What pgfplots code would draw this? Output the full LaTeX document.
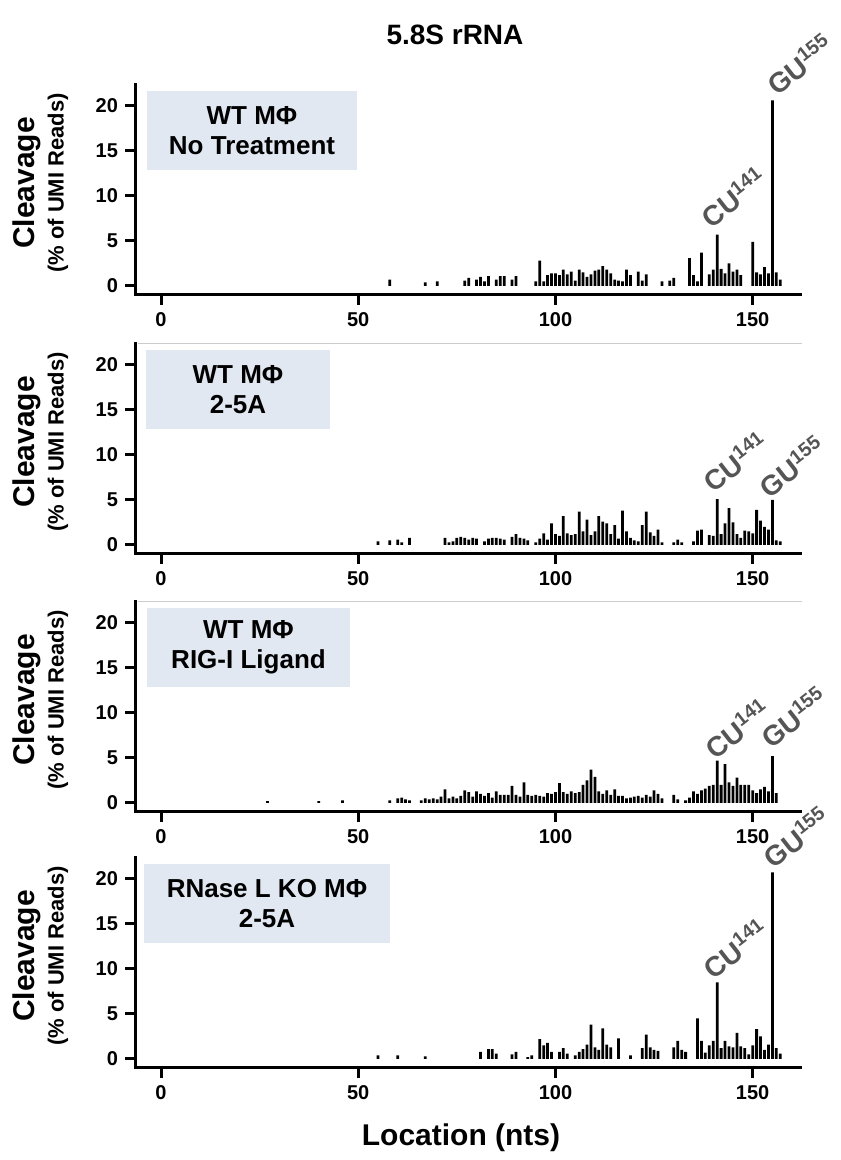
\documentclass[border=0pt]{standalone}
\usepackage{pgfplots}
\pgfplotsset{compat=1.18}
\usepackage{pgfplotstable}
\usepackage{fontspec}
\setmainfont{Liberation Sans}

\definecolor{boxfill}{RGB}{225,232,242}
\definecolor{annogray}{RGB}{85,85,85}
\definecolor{sepgray}{RGB}{204,204,204}

% cleavage (% of UMI reads) per nucleotide position
\pgfplotstableread{
x y
58 0.7
67 0.4
70 0.5
77 0.6
78 0.9
80 0.7
81 1.0
82 0.5
83 1.1
85 0.7
86 1.1
87 1.1
89 0.7
90 1.1
95 0.5
96 2.8
97 0.5
98 1.2
99 1.4
100 1.4
101 1.2
102 1.8
103 1.3
104 1.6
105 0.6
106 1.8
107 1.5
108 1.0
109 1.3
110 1.7
111 1.8
112 2.2
113 1.8
114 1.4
115 0.7
116 0.6
117 0.5
118 1.8
119 1.2
121 1.6
122 0.6
123 1.3
127 0.5
129 0.6
130 0.9
134 3.1
135 1.2
136 0.5
137 3.7
139 1.3
140 1.8
141 5.7
142 1.9
143 1.4
144 2.5
145 1.6
146 1.8
147 1.2
150 4.9
151 1.5
152 1.3
153 2.1
154 1.4
155 20.6
156 1.5
157 0.7
}\wtnone

\pgfplotstableread{
x y
55 0.4
58 0.5
60 0.6
61 0.3
63 0.8
72 0.8
73 0.3
74 0.4
75 0.8
76 0.9
77 0.8
78 0.6
79 0.8
80 0.7
82 0.4
83 0.7
84 0.8
85 0.8
86 0.7
87 0.6
89 0.9
90 1.2
91 0.8
92 0.7
93 0.5
95 0.3
96 0.7
97 1.3
98 0.6
99 2.4
100 1.2
101 1.0
102 3.2
103 1.3
104 1.1
105 1.2
106 3.7
107 1.5
108 2.8
109 1.1
110 1.5
111 3.2
112 2.6
113 2.4
114 1.2
115 2.2
116 0.7
117 3.8
118 1.5
119 0.8
120 0.5
121 0.4
122 2.2
123 3.7
124 1.4
125 1.0
126 1.7
127 0.3
130 0.3
131 0.6
132 0.3
135 0.4
136 1.6
137 1.7
139 1.1
140 1.0
141 5.1
142 1.2
143 2.4
144 4.1
145 2.5
146 1.2
147 0.8
148 1.6
149 1.5
150 1.3
151 3.9
152 2.7
153 2.0
154 1.7
155 5.0
156 0.5
157 0.4
}\wtfiveA

\pgfplotstableread{
x y
27 0.2
40 0.2
46 0.3
58 0.3
60 0.5
61 0.6
62 0.4
63 0.3
66 0.3
67 0.5
68 0.4
69 0.5
70 0.4
71 0.7
72 1.5
73 0.5
74 0.7
75 0.5
76 0.8
77 1.4
78 1.2
79 0.7
80 1.3
81 1.0
82 0.8
83 1.1
84 0.6
85 1.3
86 0.9
87 0.9
88 0.9
89 1.9
90 0.9
91 0.7
92 2.3
93 0.9
94 0.8
95 0.9
96 0.8
97 0.7
98 1.1
99 1.0
100 1.2
101 2.2
102 1.2
103 1.0
104 1.3
105 1.1
106 1.2
107 2.0
108 2.5
109 3.7
110 2.9
111 1.3
112 1.0
113 1.4
114 0.9
115 1.5
116 0.8
117 0.8
118 0.5
119 0.6
120 0.7
121 0.8
122 0.6
123 0.9
124 0.7
125 1.4
126 1.0
127 0.5
130 0.9
131 0.4
133 0.3
134 0.6
135 1.3
136 1.0
137 1.4
138 1.6
139 1.9
140 2.0
141 4.7
142 2.0
143 4.3
144 2.3
145 1.9
146 2.8
147 2.0
148 2.0
149 2.0
150 1.4
151 1.1
152 1.5
153 1.8
154 1.3
155 5.2
156 1.1
}\wtrig

\pgfplotstableread{
x y
55 0.4
60 0.4
67 0.3
81 0.8
83 1.1
84 1.1
85 0.6
89 0.5
90 0.8
93 0.2
94 0.4
96 2.2
97 1.5
98 1.8
99 0.8
101 0.8
102 1.2
103 0.6
105 0.4
106 0.8
107 1.1
108 1.6
109 3.8
110 1.3
111 1.0
112 3.4
113 1.6
114 1.3
116 2.3
119 0.4
122 1.2
123 2.7
124 1.3
125 1.0
126 0.9
130 1.3
131 2.0
132 1.0
133 0.8
136 4.5
137 2.0
138 0.7
139 1.5
140 2.0
141 8.5
142 1.2
143 2.0
144 1.4
145 1.3
146 2.9
147 1.4
148 1.2
149 0.5
150 1.5
151 3.3
152 2.5
153 1.0
154 1.6
155 20.7
156 1.2
157 0.6
}\kofiveA

\pgfplotsset{
  panel/.style={
    scale only axis, width=332.5pt, height=105pt,
    anchor=south west,
    xmin=-6.6, xmax=162, ymin=-1, ymax=22.3,
    axis x line=bottom, axis y line=left,
    axis line style={-, line width=1.5pt, line cap=rect},
    xtick={0,50,100,150}, ytick={0,5,10,15,20},
    tick align=outside, major tick length=5pt,
    every tick/.style={black, line width=1.5pt},
    ticklabel style={font=\bfseries\fontsize{10}{12}\selectfont},
    /pgf/number format/assume math mode=true,
    clip=false,
  },
  bars/.style={ybar, fill=black, draw=none, bar width=0.7},
}
\tikzset{
  ann/.style={anchor=south west, rotate=38, inner sep=0pt,
    text=annogray, font=\bfseries\fontsize{14}{16}\selectfont},
}

\newcommand{\ylab}[1]{%
  \node[rotate=90, font=\bfseries\fontsize{15}{18}\selectfont] at (13.5pt,#1) {Cleavage};
  \node[rotate=90, font=\bfseries\fontsize{11}{13}\selectfont] at (29pt,#1) {(\% of UMI Reads)};
}
\newcommand{\tagbox}[5]{%
  \fill[boxfill] (#1,#2) rectangle (#3,#4);
  \node[align=center, font=\bfseries\fontsize{13}{15}\selectfont]
    at ({(#1+#3)/2},{(#2+#4)/2}) {#5};
}

\begin{document}
\begin{tikzpicture}[x=1pt,y=1pt]
\path[use as bounding box] (0,0) rectangle (420,580);

\node[font=\bfseries\fontsize{14}{17}\selectfont] at (227.5,562.5) {5.8S rRNA};
\node[font=\bfseries\fontsize{15}{18}\selectfont] at (230.5,11) {Location (nts)};

\draw[sepgray, line width=0.5pt] (69,408) -- (401,408);
\draw[sepgray, line width=0.5pt] (69,279) -- (401,279);

\tagbox{73.5}{495}{178.5}{534.5}{WT MΦ\\No Treatment}
\tagbox{73}{365.5}{165}{405}{WT MΦ\\2-5A}
\tagbox{73.5}{236.5}{175}{276}{WT MΦ\\RIG-I Ligand}
\tagbox{72}{108.5}{195}{148}{RNase L KO MΦ\\2-5A}

\ylab{488.5}
\ylab{359}
\ylab{230}
\ylab{102}

\begin{axis}[panel, at={(67.5pt,432.5pt)}]
  \addplot[bars] table {\wtnone};
  \node[ann] at (axis cs:139.6,6.2) {CU\textsuperscript{141}};
  \node[ann] at (axis cs:156.2,20.9) {GU\textsuperscript{155}};
\end{axis}

\begin{axis}[panel, at={(67.5pt,303pt)}]
  \addplot[bars] table {\wtfiveA};
  \node[ann] at (axis cs:140.1,5.6) {CU\textsuperscript{141}};
  \node[ann] at (axis cs:154.3,5.0) {GU\textsuperscript{155}};
\end{axis}

\begin{axis}[panel, at={(67.5pt,174pt)}]
  \addplot[bars] table {\wtrig};
  \node[ann] at (axis cs:140.6,4.6) {CU\textsuperscript{141}};
  \node[ann] at (axis cs:154.8,5.8) {GU\textsuperscript{155}};
\end{axis}

\begin{axis}[panel, at={(67.5pt,46pt)}]
  \addplot[bars] table {\kofiveA};
  \node[ann] at (axis cs:140.1,8.6) {CU\textsuperscript{141}};
  \node[ann] at (axis cs:155.4,20.9) {GU\textsuperscript{155}};
\end{axis}
\end{tikzpicture}
\end{document}
